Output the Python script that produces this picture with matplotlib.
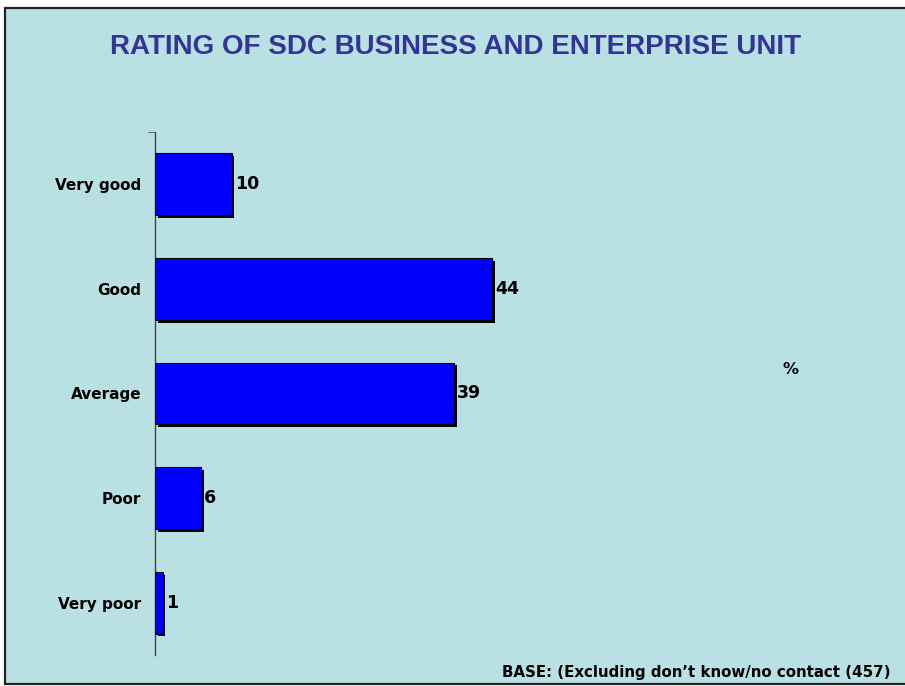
import matplotlib
matplotlib.use("Agg")
from matplotlib import pyplot as plt
from matplotlib import patheffects as pe
from matplotlib.patches import Rectangle

categories = ["Very good", "Good", "Average", "Poor", "Very poor"]
values = [10, 44, 39, 6, 1]
title = "RATING OF SDC BUSINESS AND ENTERPRISE UNIT"
base_note = "BASE: (Excluding don\u2019t know/no contact (457)"

bg = "#B9E0E3"
bar_color = "#0000FF"

fig = plt.figure(figsize=(9.05, 6.86), dpi=100)
fig.patch.set_facecolor("white")

# framed panel behind everything
frame = Rectangle((5 / 905, 1 - 684 / 686), 905 / 905, (684 - 8) / 686,
                  transform=fig.transFigure, facecolor=bg, edgecolor="#222222",
                  linewidth=1.6, zorder=-5)
fig.patches.append(frame)

ax = fig.add_axes([155 / 905, 1 - 655 / 686, (880 - 155) / 905, (655 - 132) / 686])
ax.set_facecolor("none")
ax.set_zorder(2)

pos = list(range(len(categories)))
bars = ax.barh(pos, values, height=0.59, color=bar_color, edgecolor="black", linewidth=0.8,
               zorder=3)
for b in bars:
    b.set_path_effects([pe.SimplePatchShadow(offset=(2, -2), shadow_rgbFace="black", alpha=1),
                        pe.Normal()])

for p, v in zip(pos, values):
    ax.text(v + 0.4, p, str(v), va="center", ha="left", fontsize=12.5, fontweight="bold",
            color="black", fontfamily="DejaVu Sans")

ax.set_ylim(4.5, -0.5)
ax.set_xlim(0, 725 / 7.66)
ax.set_yticks(pos)
ax.set_yticklabels(categories, fontsize=11, fontweight="bold", fontfamily="DejaVu Sans")
ax.tick_params(axis="y", length=0, pad=10)
ax.set_yticks([-0.5], minor=True)
ax.tick_params(axis="y", which="minor", length=5, color="#444444")
ax.set_xticks([])
for s in ["top", "right", "bottom"]:
    ax.spines[s].set_visible(False)
ax.spines["left"].set_color("#444444")
ax.spines["left"].set_linewidth(1.0)

fig.text(455 / 905, 1 - 47 / 686, title, ha="center", va="center", fontsize=20,
         fontweight="bold", color="#333399", fontfamily="Liberation Sans")
fig.text(790 / 905, 1 - 370 / 686, "%", ha="center", va="center", fontsize=11.5,
         fontweight="bold", fontfamily="DejaVu Sans")
fig.text(890 / 905, 1 - 673 / 686, base_note, ha="right", va="center", fontsize=10.8,
         fontweight="bold", fontfamily="DejaVu Sans")

fig.savefig("out.png", dpi=100)
